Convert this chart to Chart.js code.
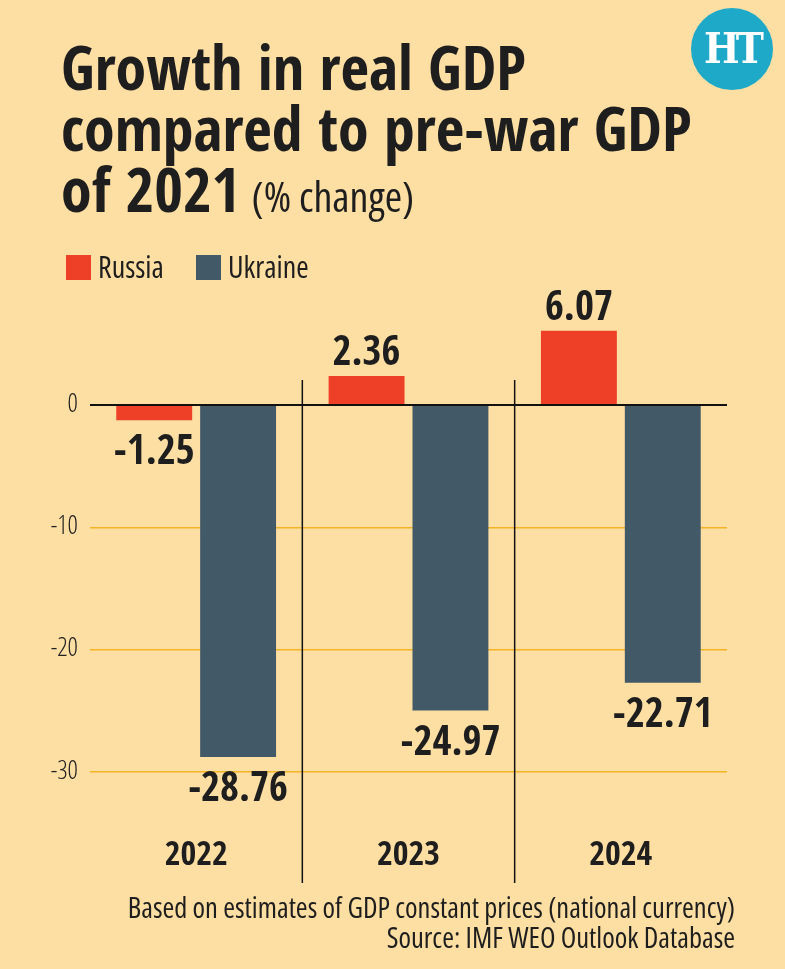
<!DOCTYPE html>
<html lang="en">
<head>
  <meta charset="UTF-8" />
  <title>Growth in real GDP compared to pre-war GDP of 2021</title>
  <script src="https://cdn.jsdelivr.net/npm/chart.js"></script>
  <style>
    html, body {
      margin: 0;
      padding: 0;
    }

    body {
      width: 785px;
      height: 969px;
      background-color: #fddfa3;
      font-family: 'Open Sans', sans-serif;
      font-stretch: condensed;
      font-weight: normal;
      color: #1e1e1e;
      position: relative;
      overflow: hidden;
    }

    .title {
      position: absolute;
      left: 61px;
      top: 36px;
      margin: 0;
      font-family: 'Open Sans Condensed', 'Open Sans', sans-serif;
      font-size: 62px;
      line-height: 61px;
      font-weight: bold;
      white-space: nowrap;
    }

    .title .unit {
      font-family: 'Open Sans', sans-serif;
      font-size: 42px;
      font-weight: normal;
      margin-left: -4px;
    }

    .logo {
      position: absolute;
      left: 691px;
      top: 8px;
      width: 82px;
      height: 82px;
      border-radius: 50%;
      background-color: #1ea9c9;
      color: #fff;
      font-family: 'DejaVu Serif', serif;
      font-weight: bold;
      font-size: 42px;
      line-height: 82px;
      text-align: center;
      letter-spacing: -4px;
    }

    .legend {
      position: absolute;
      left: 66px;
      top: 252px;
      font-size: 30px;
      line-height: 29px;
      white-space: nowrap;
    }

    .legend span.item {
      display: inline-block;
      width: 130px;
    }

    .legend i {
      display: inline-block;
      width: 25px;
      height: 25px;
      margin-right: 7px;
      vertical-align: -2px;
    }

    .note {
      position: absolute;
      right: 50px;
      top: 892px;
      font-size: 28.5px;
      line-height: 30px;
      text-align: right;
      white-space: nowrap;
    }

    #chart {
      position: absolute;
      left: 0;
      top: 0;
    }
  </style>
</head>
<body>
  <canvas id="chart" width="785" height="969"></canvas>

  <h1 class="title">Growth in real GDP<br>compared to pre-war GDP<br>of 2021 <span class="unit">(% change)</span></h1>
  <div class="logo">HT</div>

  <div class="legend" id="legend"></div>

  <div class="note">
    Based on estimates of GDP constant prices (national currency)<br>
    Source: IMF WEO Outlook Database
  </div>

  <script>
    const years = ["2022", "2023", "2024"];
    const russia = [-1.25, 2.36, 6.07];
    const ukraine = [-28.76, -24.97, -22.71];
    const yTicks = [0, -10, -20, -30];

    const seriesNames = ["Russia", "Ukraine"];
    const seriesColors = ["#ee4027", "#425968"];

    const BOLD_FONT = "'Open Sans Condensed', 'Roboto Condensed', sans-serif";
    const LIGHT_FONT = "'Open Sans Condensed Light', 'Roboto Condensed', sans-serif";

    // html legend
    document.getElementById("legend").innerHTML = seriesNames
      .map((name, i) => `<span class="item"><i style="background:${seriesColors[i]}"></i>${name}</span>`)
      .join("");

    // thin black lines between the year groups
    const separators = {
      id: "separators",
      beforeDatasetsDraw(chart) {
        const x = chart.scales.x;
        const area = chart.chartArea;
        const ctx = chart.ctx;
        ctx.save();
        ctx.strokeStyle = "#111";
        ctx.lineWidth = 1.5;
        for (let i = 0; i < years.length - 1; i++) {
          const px = (x.getPixelForValue(i) + x.getPixelForValue(i + 1)) / 2;
          ctx.beginPath();
          ctx.moveTo(px, area.top);
          ctx.lineTo(px, area.bottom + 62);
          ctx.stroke();
        }
        ctx.restore();
      }
    };

    // value labels above / below each bar
    const valueLabels = {
      id: "valueLabels",
      afterDatasetsDraw(chart) {
        const ctx = chart.ctx;
        ctx.save();
        ctx.font = `bold 41px ${BOLD_FONT}`;
        ctx.fillStyle = "#1e1e1e";
        ctx.textAlign = "center";
        ctx.textBaseline = "alphabetic";
        chart.data.datasets.forEach((ds, di) => {
          chart.getDatasetMeta(di).data.forEach((bar, i) => {
            const v = ds.data[i];
            const y = v >= 0 ? bar.y - 11 : bar.y + 44;
            ctx.fillText(v.toFixed(2), bar.x, y);
          });
        });
        ctx.restore();
      }
    };

    new Chart(document.getElementById("chart"), {
      type: "bar",
      data: {
        labels: years,
        datasets: [
          { label: seriesNames[0], data: russia, backgroundColor: seriesColors[0] },
          { label: seriesNames[1], data: ukraine, backgroundColor: seriesColors[1] }
        ]
      },
      options: {
        responsive: false,
        animation: false,
        layout: { padding: { top: 380, right: 58, bottom: 88, left: 0 } },
        datasets: {
          bar: { categoryPercentage: 0.79, barPercentage: 0.905, clip: false }
        },
        plugins: {
          legend: { display: false },
          tooltip: { enabled: false }
        },
        scales: {
          x: {
            grid: { display: false, drawTicks: false },
            border: { display: false },
            ticks: {
              padding: 15,
              color: "#1e1e1e",
              font: { family: BOLD_FONT, size: 34, weight: "bold" }
            },
            afterFit(scale) { scale.height = 60; }
          },
          y: {
            min: -34,
            max: 2.04,
            afterBuildTicks(scale) {
              scale.ticks = yTicks.map(v => ({ value: v }));
            },
            afterFit(scale) { scale.width = 90; },
            border: { display: false },
            grid: {
              drawTicks: false,
              color: ctx => (ctx.tick && ctx.tick.value === 0 ? "#111" : "#f4b425"),
              lineWidth: ctx => (ctx.tick && ctx.tick.value === 0 ? 2 : 1.5)
            },
            ticks: {
              padding: 12,
              color: "#222",
              font: { family: LIGHT_FONT, size: 26, weight: "normal" },
              callback: v => String(v)
            }
          }
        }
      },
      plugins: [separators, valueLabels]
    });
  </script>
</body>
</html>
